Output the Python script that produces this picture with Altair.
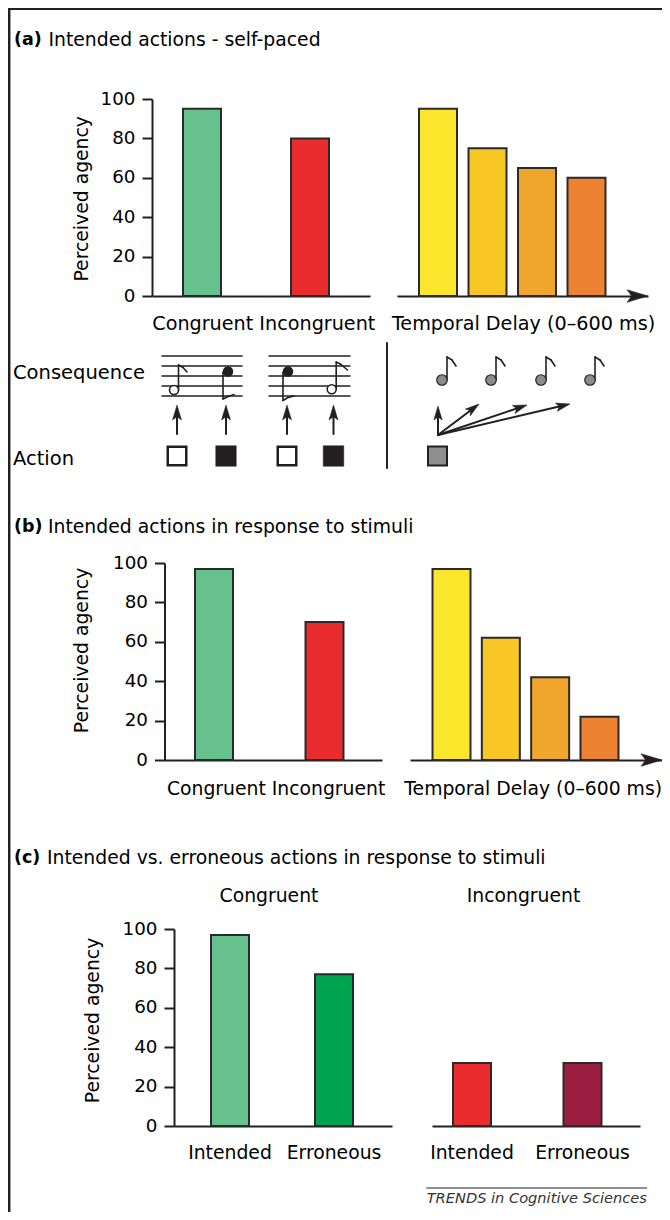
import math
import altair as alt
import pandas as pd

# ---------------- chart values ----------------
cond_labels = ["Congruent", "Incongruent"]
delay_labels = ["0 ms", "200 ms", "400 ms", "600 ms"]
outcome_labels = ["Intended", "Erroneous"]

a_cond_values = [95, 80]
a_delay_values = [95, 75, 65, 60]
b_cond_values = [97, 70]
b_delay_values = [97, 62, 42, 22]
c_congruent_values = [97, 77]
c_incongruent_values = [32, 32]

y_ticks = [0, 20, 40, 60, 80, 100]

cond_colors = ["#66c18c", "#e92d2f"]
delay_colors = ["#fbe62c", "#f9c725", "#f0a52c", "#ee8233"]
congruent_colors = ["#66c18c", "#00a34f"]
incongruent_colors = ["#e92d2f", "#9b1d40"]

# ---------------- layout / style ----------------
W, H = 654, 1204
INK = "#231f20"
EDGE = "#2a2a2a"
FONT = "DejaVu Sans"
FS = 18.8


def table(labels, values, colors):
    return pd.DataFrame({"cat": labels, "val": values, "fill": colors})


def band(r0, r1, first_off, step, n, bw=38.0):
    span = r1 - r0
    p_in = 1 - bw / step
    p_out = (span / step - n + p_in) / 2
    used = step * (n - p_in)
    align = (first_off - bw / 2) / (span - used)
    return alt.Scale(range=[r0, r1], paddingInner=p_in, paddingOuter=p_out,
                     align=align, round=False)


def yscale(y0):
    return alt.Scale(domain=[0, 100], range=[y0, y0 - 197], nice=False)


def y_axis(axis_x, title_x, title_y):
    return alt.Axis(orient="left", offset=-axis_x, values=y_ticks, tickSize=10,
                    labelPadding=7, grid=False, title="Perceived agency",
                    titleX=title_x, titleY=title_y, titleAngle=270,
                    titleAlign="center", titleBaseline="middle")


def x_axis_title(y0, text, tx, ty, align="center", size=19.2):
    return alt.Axis(orient="bottom", offset=y0 - H, labels=False, ticks=False,
                    domain=True, grid=False, title=text, titleX=tx, titleY=ty,
                    titleAlign=align, titleBaseline="middle", titleFontSize=size)


def x_axis_labels(y0):
    return alt.Axis(orient="bottom", offset=y0 - H, labels=True, ticks=False,
                    tickSize=0, labelPadding=26.9, labelBaseline="middle",
                    labelAngle=0, labelFontSize=FS, domain=True, grid=False,
                    title=None)


def bar_layer(df, xscale, xaxis, y0, yaxis):
    return alt.Chart(df).mark_bar(stroke=EDGE, strokeWidth=2, strokeJoin="miter").encode(
        x=alt.X("cat:N", sort=None, scale=xscale, axis=xaxis),
        y=alt.Y("val:Q", scale=yscale(y0), axis=yaxis),
        fill=alt.Fill("fill:N", scale=None, legend=None),
    )


YA, YB, YC = 288, 752, 1118

bars = [
    bar_layer(table(cond_labels, a_cond_values, cond_colors), band(144, 362, 50, 108, 2),
              x_axis_title(YA, "Congruent Incongruent", 255.3, 27.9), YA,
              y_axis(144, -70.5, 190.3)),
    bar_layer(table(delay_labels, a_delay_values, delay_colors), band(389, 640, 41, 49.5, 4),
              x_axis_title(YA, "Temporal Delay (0\u2013600 ms)", 515, 27.9), YA, None),
    bar_layer(table(cond_labels, b_cond_values, cond_colors), band(156.5, 374, 49.5, 110.5, 2),
              x_axis_title(YB, "Congruent Incongruent", 267.6, 28.7, size=18.8), YB,
              y_axis(156.5, -83, 642)),
    bar_layer(table(delay_labels, b_delay_values, delay_colors), band(402, 654, 41.5, 49.33, 4),
              x_axis_title(YB, "Temporal Delay (0\u2013600 ms)", 653.5, 28.7, "right", 18.8), YB, None),
    bar_layer(table(outcome_labels, c_congruent_values, congruent_colors), band(166, 384, 56, 104, 2),
              x_axis_labels(YC), YC, y_axis(166, -81.8, 1012)),
    bar_layer(table(outcome_labels, c_incongruent_values, incongruent_colors), band(424, 632, 40, 110.5, 2),
              x_axis_labels(YC), YC, None),
]

# ---------------- illustration geometry (frame, staves, notes, arrows) ----------------
segs = []


def seg(x, y, x2, y2, w=2.0):
    segs.append(dict(x=x, y=y, x2=x2, y2=y2, w=w))


pts = []
ARROW = "M0,0 L-1,-0.3 L-0.78,0 L-1,0.3 Z"


def pt(x, y, shape, size, fill, stroke=INK, sw=0.0, angle=0.0):
    pts.append(dict(x=x, y=y, shape=shape, size=size, fill=fill, stroke=stroke, sw=sw, angle=angle))


def arrow(x0, y0, x1, y1, length=14.0, w=2.0):
    dx, dy = x1 - x0, y1 - y0
    d = math.hypot(dx, dy)
    ux, uy = dx / d, dy / d
    seg(x0, y0, x1 - ux * length * 0.8, y1 - uy * length * 0.8, w)
    ang = math.degrees(math.atan2(dy, dx)) % 360
    pt(x1, y1, ARROW, (2 * length) ** 2, INK, INK, 0.5, ang)


# frame
seg(1.2, 0, 1.2, H, 2.5)
seg(0, 1, W, 1, 2)

# axis arrow heads on the delay baselines
pt(640, YA, ARROW, 42 ** 2, INK, INK, 0.5, 0)
pt(654, YB, ARROW, 42 ** 2, INK, INK, 0.5, 0)

# staves
for yy in [348, 358, 368, 378, 388]:
    seg(154, yy, 234, yy, 1.5)
    seg(261, yy, 342, yy, 1.5)

# divider
seg(379, 335, 379, 460, 2)

# notes on staves: stems + flags
def flag(pts3):
    for (xa, ya), (xb, yb) in zip(pts3[:-1], pts3[1:]):
        seg(xa, ya, xb, yb, 1.6)

seg(170.5, 382, 170.5, 357, 1.6)
flag([(170.5, 357), (175, 359.5), (179, 364)])
pt(166, 382, "circle", 81, "white", INK, 1.6)

seg(215, 364, 215, 391, 1.6)
flag([(215, 391), (220, 388.5), (226, 386.5)])
pt(220, 363.5, "circle", 110, INK)

seg(275, 364, 275, 392.5, 1.6)
flag([(275, 392.5), (280, 389.5), (286, 388)])
pt(280, 363.5, "circle", 110, INK)

seg(328.2, 381, 328.2, 354, 1.6)
flag([(328.2, 354), (333, 356.5), (339.5, 362)])
pt(323.7, 381.3, "circle", 81, "white", INK, 1.6)

# action arrows and keys (left)
for ax in [169, 218, 279, 325.5]:
    arrow(ax, 426, ax, 397, 15)
pt(169, 448, "square", 18.5 ** 2, "white", INK, 2.5)
pt(218, 448, "square", 20.5 ** 2, INK, INK, 0.5)
pt(279, 448, "square", 18.5 ** 2, "white", INK, 2.5)
pt(325.5, 448, "square", 20.5 ** 2, INK, INK, 0.5)

# delayed consequences (right)
for hx in [434, 483, 533, 582]:
    sx = hx + 5
    seg(sx, 372, sx, 349, 1.6)
    flag([(sx, 349), (sx + 5, 352), (sx + 9, 358)])
    pt(hx, 372, "circle", 110, "#8c8c8c", INK, 1.2)

for tx, ty in [(430, 398), (471, 396), (519, 397), (562, 396)]:
    arrow(430, 427, tx, ty, 14)
pt(429.5, 448, "square", 19 ** 2, "#8f8f8f", INK, 2)

# source line
seg(418.7, 1180, 638.7, 1180, 1)

seg_layer = alt.Chart(pd.DataFrame(segs)).mark_rule(color=INK, strokeCap="round").encode(
    x=alt.X("x:Q", scale=None, axis=None),
    y=alt.Y("y:Q", scale=None, axis=None),
    x2="x2:Q",
    y2="y2:Q",
    strokeWidth=alt.StrokeWidth("w:Q", scale=None, legend=None),
)

pt_layer = alt.Chart(pd.DataFrame(pts)).mark_point(filled=True, opacity=1).encode(
    x=alt.X("x:Q", scale=None, axis=None),
    y=alt.Y("y:Q", scale=None, axis=None),
    shape=alt.Shape("shape:N", scale=None, legend=None),
    size=alt.Size("size:Q", scale=None, legend=None),
    fill=alt.Fill("fill:N", scale=None, legend=None),
    stroke=alt.Stroke("stroke:N", scale=None, legend=None),
    strokeWidth=alt.StrokeWidth("sw:Q", scale=None, legend=None),
    angle=alt.Angle("angle:Q", scale=None, legend=None),
)

# ---------------- texts ----------------
def text_layer(rows, color="#000000", **mark):
    df = pd.DataFrame(rows, columns=["text", "x", "y"])
    return alt.Chart(df).mark_text(font=FONT, baseline="middle", color=color, **mark).encode(
        x=alt.X("x:Q", scale=None, axis=None),
        y=alt.Y("y:Q", scale=None, axis=None),
        text="text:N",
    )


panel_letters = text_layer([
    ("(a)", 6, 32.2), ("(b)", 6, 518.7), ("(c)", 6, 850.2),
], align="left", fontSize=17.5, fontWeight="bold")

panel_titles = text_layer([
    ("Intended actions - self-paced", 40.5, 32.2),
    ("Intended actions in response to stimuli", 40, 518.7),
    ("Intended vs. erroneous actions in response to stimuli", 39, 850.2),
], align="left", fontSize=FS)

diagram_labels = text_layer([
    ("Consequence", 5, 364.9), ("Action", 5, 450.7),
], align="left", fontSize=19.5)

group_headers = text_layer([
    ("Congruent", 261, 888.2), ("Incongruent", 515.5, 888.2),
], align="center", fontSize=FS)

source = text_layer([
    ("TRENDS in Cognitive Sciences", 418.7, 1191.4),
], color="#333333", align="left", fontSize=14.6, fontStyle="italic")

chart = (
    alt.layer(seg_layer, *bars, pt_layer, panel_letters, panel_titles, diagram_labels,
              group_headers, source)
    .properties(width=W, height=H, autosize=alt.AutoSizeParams(type="none"), padding=0)
    .resolve_scale(x="independent", y="independent")
    .resolve_axis(x="independent", y="independent")
    .configure_view(stroke=None)
    .configure_axis(domainColor=INK, domainWidth=2, tickColor=INK, tickWidth=2,
                    labelFont=FONT, labelFontSize=18.3, labelColor="#000",
                    titleFont=FONT, titleFontSize=FS, titleFontWeight="normal",
                    titleColor="#000", labelOverlap=False)
)

chart.save("out.html", embed_options={"renderer": "svg", "actions": False})
